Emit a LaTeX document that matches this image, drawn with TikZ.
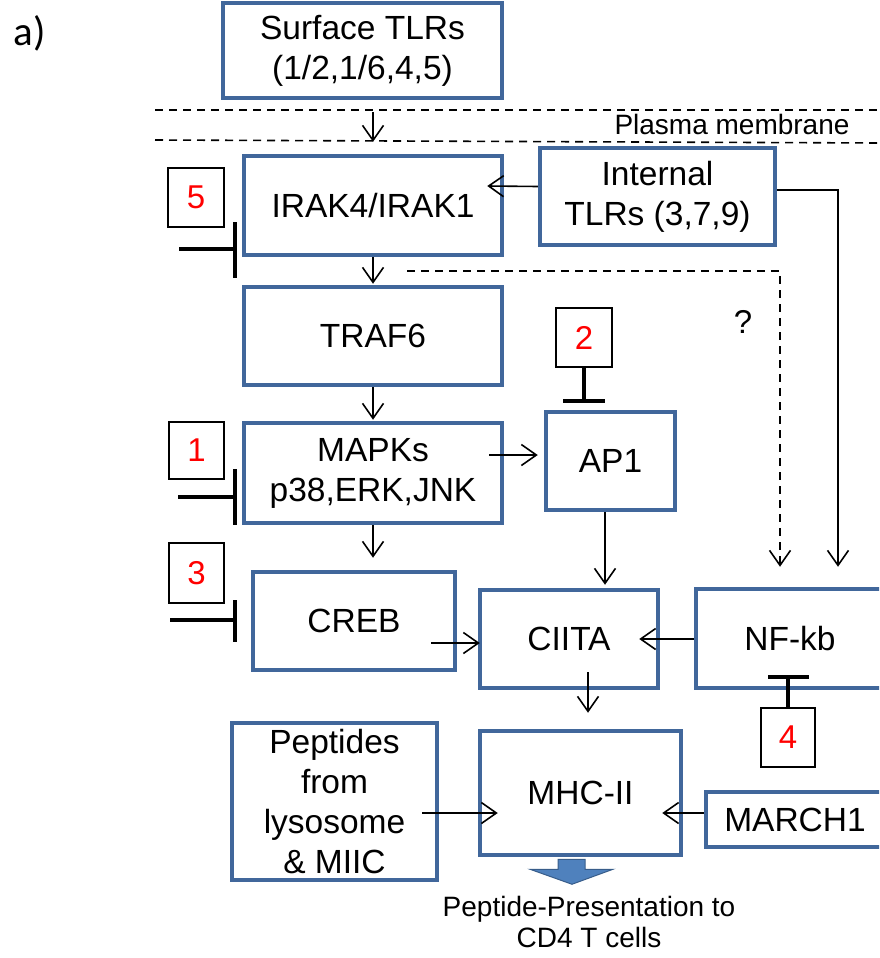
\documentclass[tikz,border=0pt]{standalone}
\usepackage{fontspec}
\setmainfont{Liberation Sans}
\newfontfamily\calib{Carlito}
\usetikzlibrary{arrows.meta,calc}
\definecolor{boxblue}{HTML}{41679B}
\definecolor{arrfill}{HTML}{4F81BD}
\definecolor{arrdraw}{HTML}{385D8A}
\begin{document}
\begin{tikzpicture}[x=1pt,y=-1pt,
  box/.style={draw=boxblue, line width=4.5pt, rectangle, inner sep=0pt, align=center, font=\fontsize{33.5}{40}\selectfont},
  numbox/.style={draw=black, line width=1.3pt, rectangle, inner sep=0pt, text=red, font=\fontsize{33}{40}\selectfont},
  arr/.style={line width=1.6pt, -{Straight Barb[length=15pt,width=21pt,line width=1.6pt]}},
  inh/.style={line width=3.6pt},
  dsh/.style={line width=1.6pt, dash pattern=on 8pt off 6pt},
]
\useasboundingbox (0,0) rectangle (879,958);
\clip (0,0) rectangle (879,958);

% labels
\node[font=\calib\fontsize{41}{41}\selectfont] (lbl) at (30,33) {a)};
\node[font=\fontsize{28}{30}\selectfont] (pm) at (732,124) {Plasma membrane};
\node[font=\fontsize{33}{40}\selectfont] (q) at (743,322) {?};

% membrane
\draw[dsh] (155,110) -- (879,110);
\draw[dsh] (155,140) -- (879,143);

% boxes
\node[box, minimum width=279pt, minimum height=95pt] (surf) at (362.5,50.5) {Surface TLRs\\(1/2,1/6,4,5)};
\node[box, minimum width=258pt, minimum height=99pt] (irak) at (373,205.5) {IRAK4/IRAK1};
\node[box, minimum width=235pt, minimum height=97pt] (internal) at (657.5,196.5) {Internal\\TLRs (3,7,9)};
\node[box, minimum width=258pt, minimum height=98pt] (traf) at (373,336) {TRAF6};
\node[box, minimum width=258pt, minimum height=100pt] (mapk) at (373,473) {MAPKs\\p38,ERK,JNK};
\node[box, minimum width=129pt, minimum height=98pt] (ap1) at (610.5,461) {AP1};
\node[box, minimum width=202pt, minimum height=98pt] (creb) at (354,621) {CREB};
\node[box, minimum width=178pt, minimum height=98pt] (ciita) at (569,639) {CIITA};
\node[box, minimum width=188pt, minimum height=99pt] (nfkb) at (790,638.5) {NF-kb};
\node[box, minimum width=205pt, minimum height=157pt] (pep) at (334.5,801.5) {Peptides\\from\\lysosome\\\& MIIC};
\node[box, minimum width=201pt, minimum height=124pt] (mhc) at (580.5,793) {MHC-II};
\node[box, minimum width=178pt, minimum height=55pt] (march) at (795,819.5) {MARCH1};

% number boxes
\node[numbox, minimum width=56pt, minimum height=59pt] (n5) at (196,197.5) {5};
\node[numbox, minimum width=55pt, minimum height=57pt] (n1) at (196.5,450.5) {1};
\node[numbox, minimum width=55pt, minimum height=60pt] (n3) at (196.5,573) {3};
\node[numbox, minimum width=56pt, minimum height=59pt] (n2) at (584,337.5) {2};
\node[numbox, minimum width=54pt, minimum height=59pt] (n4) at (788,737.5) {4};

% arrows
\draw[arr] ($(surf.south -| irak.north)+(0,12)$) -- ($(irak.north)+(0,-12)$);
\draw[arr] ($(internal.west)+(0,-10)$) -- ($(irak.east)+(-17,-19.5)$);
\draw[arr] ($(internal.east)+(0,-6.5)$) -| ($(nfkb.north)+(48,-20)$);
\draw[dsh, -{Straight Barb[length=15pt,width=21pt,line width=1.6pt]}] ($(irak.south)+(34,14)$) -| ($(nfkb.north)+(-10,-20)$);
\draw[arr] (irak.south) -- ($(traf.north)+(0,-1)$);
\draw[arr] (traf.south) -- ($(mapk.north)+(0,-1)$);
\draw[arr] ($(mapk.east)+(-15,-18)$) -- ($(ap1.west)+(-6,-6)$);
\draw[arr] (mapk.south) -- ($(mapk.south |- creb.north)+(0,-12)$);
\draw[arr] ($(ap1.south)+(-5.5,0)$) -- ($(ap1.south |- ciita.north)+(-5.5,-3)$);
\draw[arr] ($(creb.east)+(-26,22)$) -- ($(ciita.west)+(2,4)$);
\draw[arr] ($(nfkb.west)+(0,0.5)$) -- ($(ciita.east)+(-21,0)$);
\draw[arr] ($(ciita.south)+(19,-18)$) -- ($(mhc.north)+(7.5,-16)$);
\draw[arr] ($(pep.east)+(-17,11.5)$) -- ($(mhc.west)+(20,20)$);
\draw[arr] ($(march.west)+(0,-6.5)$) -- ($(mhc.east)+(-21,20)$);

% inhibitors
\coordinate (b5) at (235,249);
\draw[inh] ($(b5)+(-56,0)$) -- (b5);
\draw[inh] ($(b5)+(0,-27)$) -- ($(b5)+(0,29)$);
\coordinate (b1) at (235,497);
\draw[inh] ($(b1)+(-57,0)$) -- (b1);
\draw[inh] ($(b1)+(0,-28)$) -- ($(b1)+(0,28)$);
\coordinate (b3) at (235,620);
\draw[inh] ($(b3)+(-65,0)$) -- (b3);
\draw[inh] ($(b3)+(0,-20)$) -- ($(b3)+(0,22)$);
\coordinate (b2) at (584,401);
\draw[inh] (n2.south) -- (b2);
\draw[inh] ($(b2)+(-21,0)$) -- ($(b2)+(21,0)$);
\coordinate (b4) at (788,677);
\draw[inh] (n4.north) -- (b4);
\draw[inh] ($(b4)+(-20,0)$) -- ($(b4)+(21,0)$);

% output block arrow
\coordinate (bt) at ($(mhc.south)+(-8.5,0)$);
\draw[fill=arrfill, draw=arrdraw, line width=1pt] ($(bt)+(-14,2)$) -- ($(bt)+(13,2)$) -- ($(bt)+(13,12)$) -- ($(bt)+(41,12)$) -- ($(bt)+(0,27)$) -- ($(bt)+(-42,12)$) -- ($(bt)+(-14,12)$) -- cycle;
\node[align=center, font=\fontsize{28}{31}\selectfont] (pres) at (589,922) {Peptide-Presentation to\\CD4 T cells};
\end{tikzpicture}
\end{document}
